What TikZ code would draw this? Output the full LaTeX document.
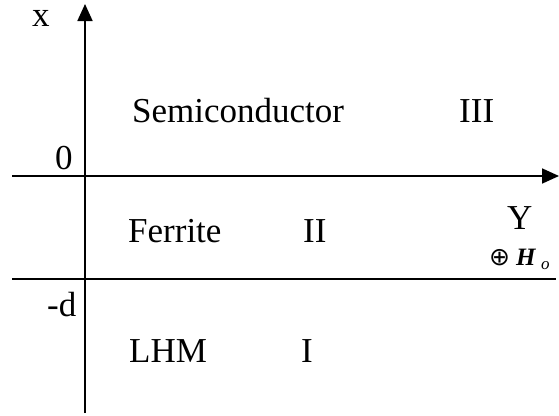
\documentclass[tikz,border=0pt]{standalone}
\usepackage{fontspec}
\setmainfont{Liberation Serif}
\newfontfamily\symfont{DejaVu Sans}
\usetikzlibrary{arrows.meta}
\begin{document}
\begin{tikzpicture}[x=1pt,y=-1pt,
  lab/.style={inner sep=0pt,anchor=base west,font=\fontsize{35}{40}\selectfont},
  axis/.style={line width=1.8pt,-{Triangle[length=17pt,width=15pt]}},
  bound/.style={line width=1.8pt}]
\useasboundingbox (0,0) rectangle (559,415);
\coordinate (vb) at (85,413);
\coordinate (vt) at (85,4);
\coordinate (hl) at (12,176);
\coordinate (hr) at (559,176);
\coordinate (dl) at (12,279);
\coordinate (dr) at (556,279);
\draw[axis] (vb) -- (vt);
\draw[axis] (hl) -- (hr);
\draw[bound] (dl) -- (dr);
\node[lab,text height=16pt] (x) at (32,27) {x};
\node[lab] (zero) at (55,169) {0};
\node[lab] (md) at (47,316) {-d};
\node[lab] (semi) at (132,122) {Semiconductor};
\node[lab] (iii) at (459,122) {III};
\node[lab] (fer) at (128,242) {Ferrite};
\node[lab] (ii) at (303,242) {II};
\node[lab] (y) at (507,229) {Y};
\node[lab] (lhm) at (129,362) {LHM};
\node[lab] (i) at (301,362) {I};
\node[inner sep=0pt,anchor=base west] (h) at (489,265)
  {{\symfont\fontsize{25}{28}\selectfont ⊕}\hspace{6pt}{\fontsize{25}{28}\selectfont\textbf{\textit{H}}}\hspace{5pt}\raisebox{-4pt}{\fontsize{17}{18}\selectfont\textit{o}}};
\end{tikzpicture}
\end{document}
